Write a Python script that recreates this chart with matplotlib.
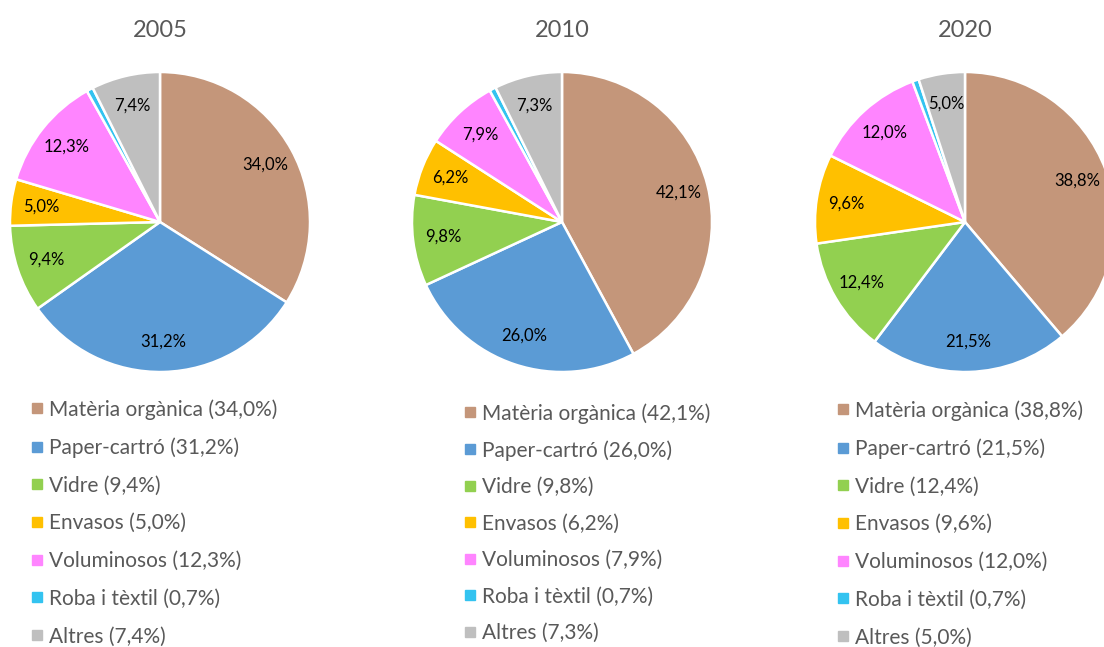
import matplotlib
matplotlib.use('Agg')
import matplotlib.pyplot as plt
from matplotlib.lines import Line2D

plt.rcParams['font.family'] = ['Lato', 'DejaVu Sans']

# dades: percentatge de residus per fracció
categories = ['Matèria orgànica', 'Paper-cartró', 'Vidre', 'Envasos',
              'Voluminosos', 'Roba i tèxtil', 'Altres']
years = ['2005', '2010', '2020']
vals_2005 = [34.0, 31.2, 9.4, 5.0, 12.3, 0.7, 7.4]
vals_2010 = [42.1, 26.0, 9.8, 6.2, 7.9, 0.7, 7.3]
vals_2020 = [38.8, 21.5, 12.4, 9.6, 12.0, 0.7, 5.0]
colors = ['#C4967A', '#5B9BD5', '#92D050', '#FFC000', '#FF85FF', '#33C3F0', '#BFBFBF']

W, H = 1104, 647
fig = plt.figure(figsize=(W / 100, H / 100), dpi=100)

centers_x = [160, 562, 965]   # centre de cada pastís (px)
center_y = 222
R = 150
legend_x = [32, 465, 838]
legend_top = [399, 403, 400]
legend_gap = [0.85, 0.79, 0.85]

def fmt_pct(p):
    if p < 1:
        return ''
    return ('%.1f%%' % p).replace('.', ',')

for i, vals in enumerate([vals_2005, vals_2010, vals_2020]):
    cx = centers_x[i]
    ax = fig.add_axes([(cx - R) / W, (H - center_y - R) / H, 2 * R / W, 2 * R / H])
    wedges, texts, autotexts = ax.pie(vals, colors=colors, startangle=90, counterclock=False,
                                      autopct=fmt_pct, pctdistance=0.8,
                                      wedgeprops=dict(edgecolor='white', linewidth=1.8),
                                      textprops=dict(fontsize=12, color='black'))
    ax.set_xlim(-1, 1)
    ax.set_ylim(-1, 1)
    ax.set_aspect('equal')
    ax.set_title(years[i], fontsize=17, color='#595959', pad=25)

    handles = []
    labels = []
    for c, name, v in zip(colors, categories, vals):
        handles.append(Line2D([], [], linestyle='none', marker='s', markersize=6.5,
                              markerfacecolor=c, markeredgecolor=c))
        labels.append('%s (%s)' % (name, ('%.1f%%' % v).replace('.', ',')))
    fig.legend(handles, labels, loc='upper left',
               bbox_to_anchor=(legend_x[i] / W, 1 - legend_top[i] / H),
               frameon=False, fontsize=15, labelcolor='#595959',
               handlelength=0.5, handletextpad=0.3, borderpad=0, borderaxespad=0,
               labelspacing=legend_gap[i])

fig.savefig('out.png', dpi=100)
